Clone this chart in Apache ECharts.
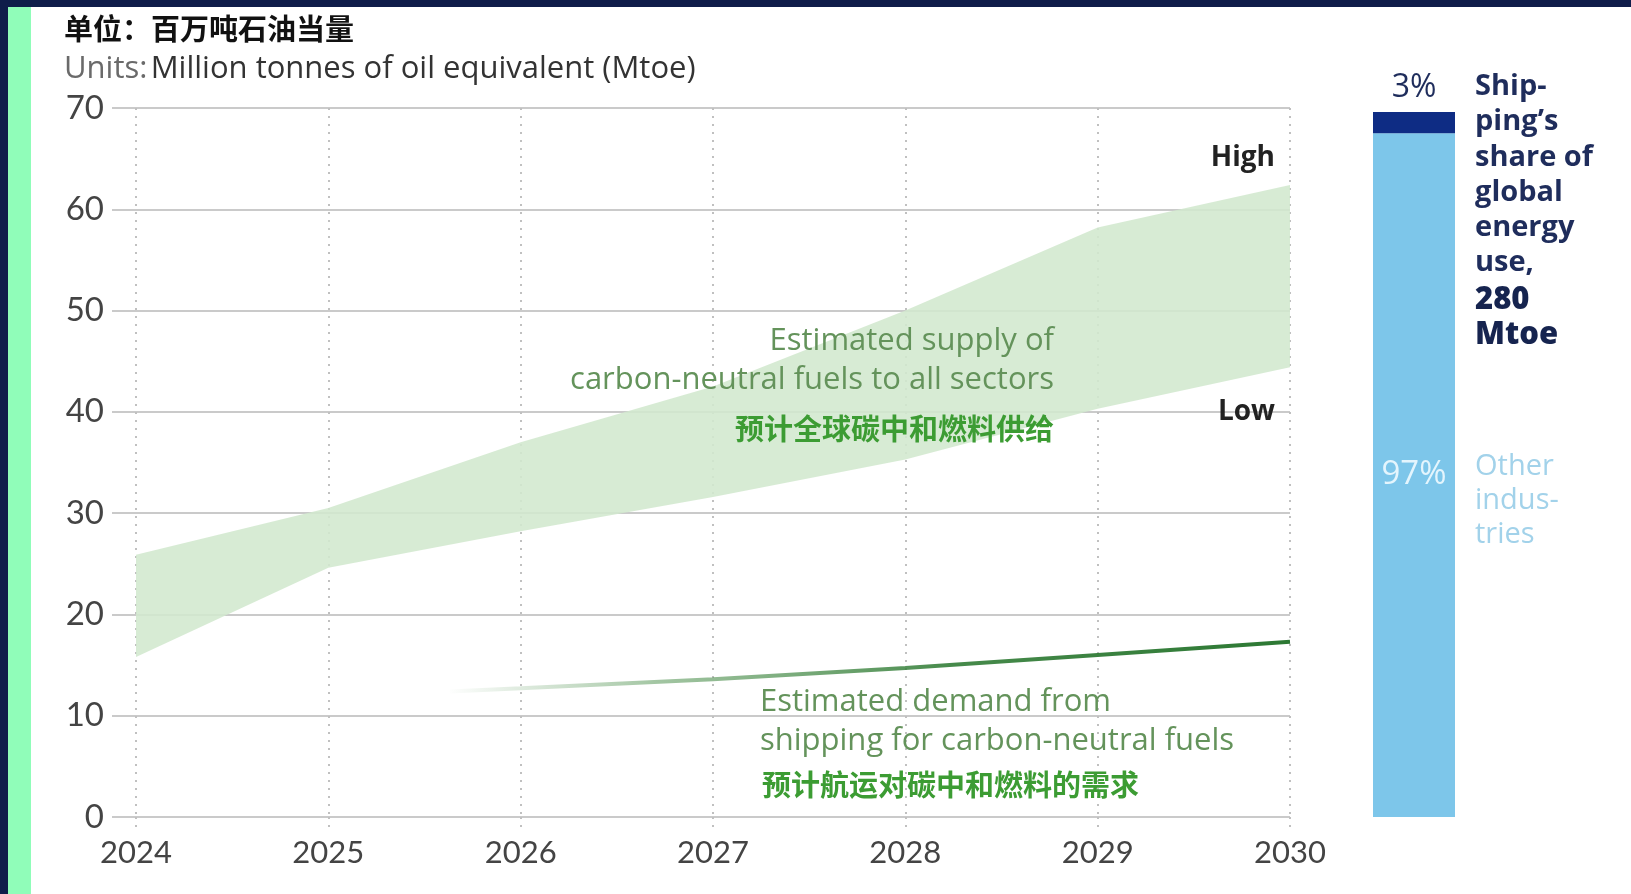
<!DOCTYPE html>
<html><head><meta charset="utf-8">
<script src="https://cdn.jsdelivr.net/npm/echarts@6.0.0/dist/echarts.min.js"></script>
<style>html,body{margin:0;padding:0;background:#fff}#c{width:1631px;height:894px}</style>
</head><body><div id="c"></div>
<script>
// ---- data ----
const years = [2024, 2025, 2026, 2027, 2028, 2029, 2030];
const supplyHigh = [25.9, 30.5, 37.0, 42.5, 50.0, 58.2, 62.4];
const supplyLow = [15.8, 24.6, 28.2, 31.6, 35.3, 40.3, 44.4];
const demandYears = [2025.63, 2026, 2027, 2028, 2029, 2030];
const demandValues = [12.4, 12.7, 13.6, 14.7, 16.0, 17.3];
const yMin = 0, yMax = 70, yInterval = 10;
const xMin = 2024, xMax = 2030, xInterval = 1;
const shareCategories = ['Global energy use'];
const otherShare = [97];
const shippingShare = [3];
const otherLabel = '97%';
const shippingLabel = '3%';
const titleCN = '单位：百万吨石油当量';
const titleEN1 = 'Units:';
const titleEN2 = 'Million tonnes of oil equivalent (Mtoe)';
const supplyTextEN = ['Estimated supply of', 'carbon-neutral fuels to all sectors'];
const supplyTextCN = '预计全球碳中和燃料供给';
const demandTextEN = ['Estimated demand from', 'shipping for carbon-neutral fuels'];
const demandTextCN = '预计航运对碳中和燃料的需求';
const shipLines = ['Ship-', 'ping\u2019s', 'share of', 'global', 'energy', 'use,'];
const shipBold = ['280', 'Mtoe'];
const otherLines = ['Other', 'indus-', 'tries'];

const chart = echarts.init(document.getElementById('c'));
const SANS = '"Open Sans", Lato, sans-serif';
const LAT = 'Lato, "Open Sans", sans-serif';
const CJK = '"Noto Sans CJK SC", sans-serif';

const graphics = [
  {type:'rect', shape:{x:0,y:0,width:1631,height:7}, style:{fill:'#0f1d4a'}, z:10},
  {type:'rect', shape:{x:0,y:0,width:8,height:894}, style:{fill:'#0f1d4a'}, z:10},
  {type:'rect', shape:{x:8,y:7,width:23,height:887}, style:{fill:'#90fdb9'}, z:10},
  {type:'text', x:64, y:29, z:10, style:{text:titleCN, font:'bold 29px '+CJK, fill:'#111', verticalAlign:'middle'}},
  {type:'text', x:64, y:69, z:10, style:{text:'{a|'+titleEN1+'} {b|'+titleEN2+'}', verticalAlign:'middle',
    rich:{a:{font:'31px '+SANS, fill:'#6a6a6a'}, b:{font:'31px '+SANS, fill:'#333'}}}},
  {type:'text', x:1275, y:158, z:10, style:{text:'High', font:'bold 28px '+SANS, fill:'#222', align:'right', verticalAlign:'middle'}},
  {type:'text', x:1275, y:412, z:10, style:{text:'Low', font:'bold 28px '+SANS, fill:'#222', align:'right', verticalAlign:'middle'}}
];
supplyTextEN.forEach(function(t,i){graphics.push({type:'text', x:1054, y:341+i*39, z:10, style:{text:t, font:'31px '+SANS, fill:'#64935b', align:'right', verticalAlign:'middle'}});});
graphics.push({type:'text', x:1054, y:429, z:10, style:{text:supplyTextCN, font:'bold 29px '+CJK, fill:'#3c9c33', align:'right', verticalAlign:'middle'}});
demandTextEN.forEach(function(t,i){graphics.push({type:'text', x:760, y:702+i*39, z:10, style:{text:t, font:'31px '+SANS, fill:'#64935b', align:'left', verticalAlign:'middle'}});});
graphics.push({type:'text', x:762, y:785, z:10, style:{text:demandTextCN, font:'bold 29px '+CJK, fill:'#3c9c33', align:'left', verticalAlign:'middle'}});
shipLines.forEach(function(t,i){graphics.push({type:'text', x:1475, y:87+i*35.2, z:10, style:{text:t, font:'bold 29px '+SANS, fill:'#1f2d5c', verticalAlign:'middle'}});});
shipBold.forEach(function(t,i){graphics.push({type:'text', x:1475, y:300+i*35.2, z:10, style:{text:t, font:'800 31px '+SANS, fill:'#16244f', verticalAlign:'middle'}});});
otherLines.forEach(function(t,i){graphics.push({type:'text', x:1475, y:467+i*34, z:10, style:{text:t, font:'29px '+SANS, fill:'#a2d2ea', verticalAlign:'middle'}});});

const option = {
  animation:false,
  backgroundColor:'#ffffff',
  graphic:graphics,
  grid:[
    {left:112, right:341, top:108, bottom:77},
    {left:136, right:341, top:108, bottom:77},
    {left:1373, width:82, top:112, bottom:77}
  ],
  xAxis:[
    {gridIndex:0, type:'value', min:0, max:1, show:false},
    {gridIndex:1, type:'value', min:xMin, max:xMax, interval:xInterval,
      axisLine:{show:false},
      axisTick:{show:true, length:10, lineStyle:{color:'#c0c0c0', width:2, type:[2,6]}},
      axisLabel:{margin:20, fontSize:31, fontFamily:LAT, color:'#444', formatter:function(v){return String(v);}},
      splitLine:{show:true, lineStyle:{color:'#c0c0c0', width:2, type:[2,6]}}},
    {gridIndex:2, type:'category', data:shareCategories, show:false}
  ],
  yAxis:[
    {gridIndex:0, type:'value', min:yMin, max:yMax, interval:yInterval,
      axisLine:{show:false}, axisTick:{show:false},
      axisLabel:{margin:8, fontSize:33, fontFamily:LAT, color:'#444'},
      splitLine:{lineStyle:{color:'#cacaca', width:2}}},
    {gridIndex:1, type:'value', min:yMin, max:yMax, show:false},
    {gridIndex:2, type:'value', min:0, max:100, show:false}
  ],
  series:[
    {type:'custom', xAxisIndex:1, yAxisIndex:1, silent:true, z:2,
      data:years.map(function(y,i){return [y, supplyLow[i], supplyHigh[i]];}),
      encode:{x:0, y:[1,2]},
      renderItem:function(params, api){
        if (params.dataIndex !== 0) return null;
        var top = years.map(function(y,i){return api.coord([y, supplyHigh[i]]);});
        var bot = years.map(function(y,i){return api.coord([y, supplyLow[i]]);}).reverse();
        return {type:'polygon', shape:{points:top.concat(bot)}, style:{fill:'#d2e8ce', opacity:0.88}};
      }},
    {type:'line', xAxisIndex:1, yAxisIndex:1, symbol:'none', silent:true, z:5,
      lineStyle:{width:4, color:new echarts.graphic.LinearGradient(0,0,1,0,[
        {offset:0, color:'rgba(70,140,70,0)'},
        {offset:0.25, color:'rgba(70,140,70,0.5)'},
        {offset:0.6, color:'rgba(50,125,55,0.9)'},
        {offset:1, color:'#2c7833'}])},
      data:demandYears.map(function(y,i){return [y, demandValues[i]];})},
    {type:'bar', xAxisIndex:2, yAxisIndex:2, stack:'share', barWidth:'100%', silent:true,
      itemStyle:{color:'#7dc6ea'}, data:otherShare,
      label:{show:true, position:'inside', formatter:otherLabel, fontSize:33, fontFamily:SANS, color:'#e4f5fd'}},
    {type:'bar', xAxisIndex:2, yAxisIndex:2, stack:'share', barWidth:'100%', silent:true,
      itemStyle:{color:'#0e2c84'}, data:shippingShare,
      label:{show:true, position:'top', distance:8, formatter:shippingLabel, fontSize:32, fontFamily:SANS, color:'#1f2d5c'}}
  ]
};
chart.setOption(option);
</script></body></html>
